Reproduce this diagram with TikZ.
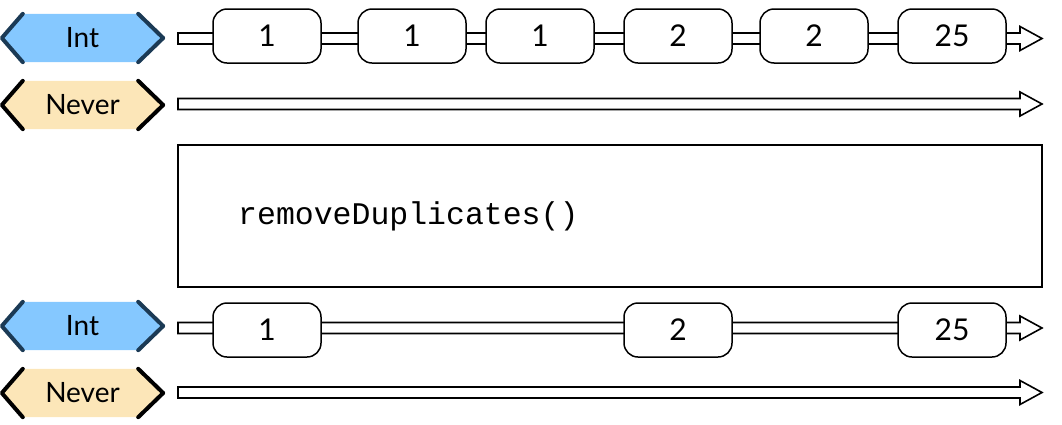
\documentclass[tikz,border=0pt]{standalone}
\usepackage{fontspec}
\setmainfont{Lato}
\setmonofont{Liberation Mono}
\usetikzlibrary{calc}
\definecolor{intfill}{HTML}{85C8FF}
\definecolor{intedge}{HTML}{1B3A55}
\definecolor{neverfill}{HTML}{FCE6B8}
\definecolor{neveredge}{HTML}{000000}
\pgfdeclarelayer{background}
\pgfsetlayers{background,main}
\tikzset{
  tagtext/.style={minimum width=161pt, minimum height=48pt, inner sep=0pt, font=\fontsize{28}{30}\selectfont},
  marble/.style={draw, fill=white, line width=1.5pt, rounded corners=14pt, minimum width=108pt, minimum height=54pt, inner sep=0pt, font=\fontsize{30}{32}\selectfont},
  shaft/.style={draw, fill=white, line width=1.6pt, line join=miter},
  chev/.style={line width=4pt, line cap=round, line join=round},
  opbox/.style={draw, line width=1.8pt},
}
\newcommand\mktag[4]{%
  \node[tagtext] (#1) at (82.5,#2) {#3};
  \begin{pgfonlayer}{background}
  \fill[#4fill] (#1.west) -- ($(#1.north west)+(21,0)$) -- ($(#1.north east)+(-25,0)$) -- (#1.east) -- ($(#1.south east)+(-25,0)$) -- ($(#1.south west)+(21,0)$) -- cycle;
  \end{pgfonlayer}
  \draw[chev,#4edge] ($(#1.north west)+(21,0)$) -- (#1.west) -- ($(#1.south west)+(21,0)$);
  \draw[chev,#4edge] ($(#1.north east)+(-25,0)$) -- (#1.east) -- ($(#1.south east)+(-25,0)$);
}
\newcommand\mkline[2]{%
  \coordinate (#1s) at (178,#2);
  \coordinate (#1e) at (1042,#2);
  \draw[shaft] ($(#1s)+(0,-5.5)$) -- ($(#1e)+(-22,-5.5)$) -- ($(#1e)+(-22,-12)$) -- (#1e) -- ($(#1e)+(-22,12)$) -- ($(#1e)+(-22,5.5)$) -- ($(#1s)+(0,5.5)$) -- cycle;
}
\begin{document}
\begin{tikzpicture}[x=1pt,y=-1pt]
\useasboundingbox (0,0) rectangle (1062,424);
% row 1
\mktag{t1}{38}{Int}{int}
\mkline{l1}{38.5}
\node[marble] (a1) at (267,36) {1};
\node[marble] (a2) at (412,36) {1};
\node[marble] (a3) at (540,36) {1};
\node[marble] (a4) at (678,36) {2};
\node[marble] (a5) at (814,36) {2};
\node[marble] (a6) at (952,36) {25};
% row 2
\mktag{t2}{105}{Never}{never}
\mkline{l2}{104}
% operator
\node[opbox, minimum width=864pt, minimum height=142pt, inner sep=0pt] (op) at (610,216) {};
\node[anchor=west, inner sep=0pt, font=\ttfamily\fontsize{31.5}{34}\selectfont] (optext) at (238,216) {removeDuplicates()};
% row 3
\mktag{t3}{326}{Int}{int}
\mkline{l3}{328}
\node[marble] (b1) at (267,330) {1};
\node[marble] (b2) at (678,330) {2};
\node[marble] (b3) at (952,330) {25};
% row 4
\mktag{t4}{393}{Never}{never}
\mkline{l4}{392.5}
\end{tikzpicture}
\end{document}
